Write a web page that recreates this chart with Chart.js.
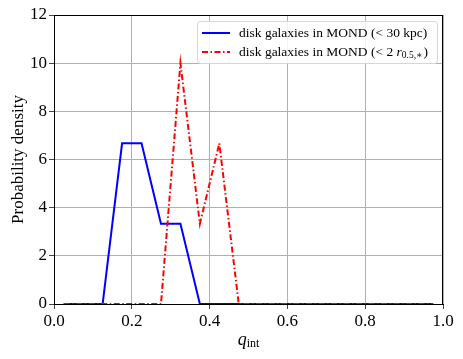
<!DOCTYPE html>
<html>
<head>
  <meta charset="UTF-8">
  <title>q_int distribution</title>
  <script src="https://cdn.jsdelivr.net/npm/chart.js"></script>
  <style>
    body { margin: 0; background: #fff; }
    #wrap { width: 463px; height: 359px; }
  </style>
</head>
<body>
  <div id="wrap"><canvas id="c"></canvas></div>
  <script>
    // bin centres of q_int
    const qBins = [0.025, 0.075, 0.125, 0.175, 0.225, 0.275, 0.325, 0.375, 0.425, 0.475,
                   0.525, 0.575, 0.625, 0.675, 0.725, 0.775, 0.825, 0.875, 0.925, 0.975];
    const dens30kpc = [0, 0, 0, 6.67, 6.67, 3.33, 3.33, 0, 0, 0,
                       0, 0, 0, 0, 0, 0, 0, 0, 0, 0];
    const densHalf = [0, 0, 0, 0, 0, 0, 10, 3.33, 6.67, 0,
                      0, 0, 0, 0, 0, 0, 0, 0, 0, 0];
    const xTicks = [0, 0.2, 0.4, 0.6, 0.8, 1.0];
    const yTicks = [0, 2, 4, 6, 8, 10, 12];

    const serif = "'Liberation Serif', 'DejaVu Serif', serif";
    const pts = (ys) => qBins.map((x, i) => ({ x: x, y: ys[i] }));

    // frame behind the lines, legend and x label (subscript) on top
    const extras = {
      id: 'extras',
      beforeDatasetsDraw(chart) {
        const ctx = chart.ctx;
        const a = chart.chartArea;
        ctx.save();
        ctx.strokeStyle = '#000';
        ctx.lineWidth = 1;
        ctx.beginPath();
        ctx.moveTo(a.left, Math.round(a.top) + 0.5);
        ctx.lineTo(a.right, Math.round(a.top) + 0.5);
        ctx.moveTo(Math.round(a.right) - 0.5, a.top);
        ctx.lineTo(Math.round(a.right) - 0.5, a.bottom);
        ctx.stroke();
        ctx.restore();
      },
      afterDraw(chart) {
        const ctx = chart.ctx;
        const a = chart.chartArea;
        ctx.save();

        // legend
        const lx = 197, ly = 21, lw = 240, lh = 42;
        ctx.fillStyle = 'rgba(255,255,255,0.85)';
        ctx.strokeStyle = '#d6d6d6';
        ctx.beginPath();
        ctx.roundRect(lx + 0.5, ly + 0.5, lw, lh, 3);
        ctx.fill();
        ctx.stroke();

        const rows = [
          { color: '#0000ff', dash: [], y: 33 },
          { color: '#ff0000', dash: [6, 2.5, 1.5, 2.5], y: 52 }
        ];
        rows.forEach(r => {
          ctx.strokeStyle = r.color;
          ctx.lineWidth = 2;
          ctx.setLineDash(r.dash);
          ctx.beginPath();
          ctx.moveTo(202, r.y);
          ctx.lineTo(230, r.y);
          ctx.stroke();
        });
        ctx.setLineDash([]);
        ctx.fillStyle = '#000';
        ctx.textBaseline = 'middle';
        ctx.font = '13.5px ' + serif;
        let t = 'disk galaxies in MOND (< 30 kpc)';
        ctx.fillText(t, 239, 33);
        let x = 239;
        t = 'disk galaxies in MOND (< 2 ';
        ctx.fillText(t, x, 52);
        x += ctx.measureText(t).width;
        ctx.font = 'italic 13.5px ' + serif;
        ctx.fillText('r', x, 52);
        x += ctx.measureText('r').width;
        ctx.font = '9.5px ' + serif;
        ctx.fillText('0.5,\u2217', x, 55);
        x += ctx.measureText('0.5,\u2217').width + 1;
        ctx.font = '13.5px ' + serif;
        ctx.fillText(')', x, 52);

        // x axis label
        const cx = (a.left + a.right) / 2;
        ctx.font = 'italic 18px ' + serif;
        const qw = ctx.measureText('q').width;
        ctx.font = '12px ' + serif;
        const sw = ctx.measureText('int').width;
        const sx = cx - (qw + sw) / 2;
        ctx.font = 'italic 18px ' + serif;
        ctx.fillText('q', sx, 340);
        ctx.font = '12px ' + serif;
        ctx.fillText('int', sx + qw, 344);
        ctx.restore();
      }
    };

    new Chart(document.getElementById('c'), {
      type: 'line',
      data: {
        datasets: [
          {
            label: 'disk galaxies in MOND (< 30 kpc)',
            data: pts(dens30kpc),
            borderColor: '#0000ff',
            borderWidth: 2,
            pointRadius: 0,
            tension: 0,
            clip: 0,
            order: 1
          },
          {
            label: 'disk galaxies in MOND (< 2 r0.5,*)',
            data: pts(densHalf),
            borderColor: '#ff0000',
            borderWidth: 2,
            borderDash: [6, 2.5, 1.5, 2.5],
            pointRadius: 0,
            tension: 0,
            clip: 0,
            order: 0
          }
        ]
      },
      options: {
        responsive: true,
        maintainAspectRatio: false,
        animation: false,
        layout: { padding: { left: 8, right: 20, top: 15, bottom: 0 } },
        plugins: { legend: { display: false }, tooltip: { enabled: false } },
        scales: {
          x: {
            type: 'linear',
            min: 0, max: 1,
            afterBuildTicks: (s) => { s.ticks = xTicks.map(v => ({ value: v })); },
            afterFit: (s) => { s.height = 55; },
            ticks: {
              color: '#000',
              padding: 2,
              font: { family: serif, size: 17 },
              callback: (v) => v.toFixed(1)
            },
            grid: { color: '#b0b0b0', lineWidth: 1, tickLength: 5, tickColor: '#444' },
            border: { color: '#000', width: 1 }
          },
          y: {
            min: 0, max: 12,
            afterBuildTicks: (s) => { s.ticks = yTicks.map(v => ({ value: v })); },
            afterFit: (s) => { s.width = 46; },
            ticks: {
              color: '#000',
              padding: 2,
              font: { family: serif, size: 17 },
              callback: (v) => String(v)
            },
            title: {
              display: true,
              text: 'Probability density',
              color: '#000',
              padding: 0,
              font: { family: serif, size: 17 }
            },
            grid: { color: '#b0b0b0', lineWidth: 1, tickLength: 5, tickColor: '#444' },
            border: { color: '#000', width: 1 }
          }
        }
      },
      plugins: [extras]
    });
  </script>
</body>
</html>
